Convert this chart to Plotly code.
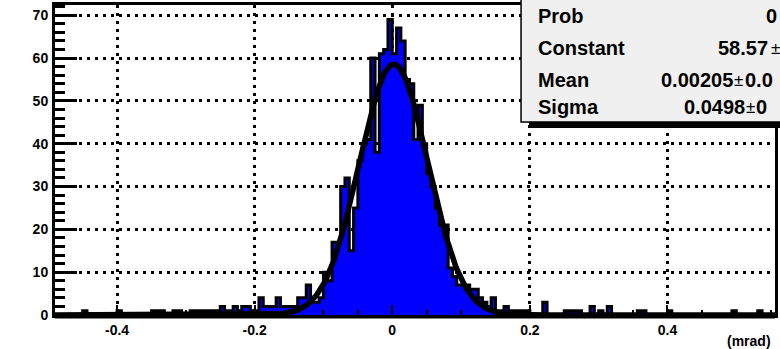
import numpy as np
import plotly.graph_objects as go

# ---------------- data ----------------
BIN_WIDTH = 0.00625          # mrad per bin
FIRST_BIN = -79              # index of first bin (left edge = FIRST_BIN*BIN_WIDTH)
counts = [
    0, 0, 0, 0, 0, 0, 0, 1, 0, 0,
    0, 0, 0, 0, 0, 1, 0, 0, 0, 0,
    0, 0, 0, 1, 1, 1, 0, 0, 1, 1,
    0, 0, 1, 1, 1, 1, 1, 1, 1, 2,
    1, 1, 2, 1, 2, 2, 1, 1, 4, 2,
    2, 2, 4, 2, 2, 2, 2, 4, 4, 7,
    3, 3, 4, 10, 8, 17, 17, 30, 32, 15,
    25, 36, 40, 41, 60, 38, 61, 62, 69, 61,
    67, 64, 55, 54, 41, 49, 40, 33, 30, 25,
    21, 21, 11, 9, 7, 7, 7, 6, 6, 4,
    3, 2, 4, 1, 1, 2, 1, 1, 1, 1,
    1, 0, 0, 0, 3, 0, 0, 0, 0, 1,
    1, 1, 1, 0, 0, 2, 0, 1, 0, 2,
    0, 0, 0, 0, 0, 0, 1, 1, 0, 0,
    0, 0, 0, 1, 0, 0, 0, 0, 0, 0,
    0, 0, 0, 0, 0, 0, 0, 0, 1, 0,
    0, 0, 0, 0, 1, 0, 0, 0,
]

# Gaussian fit parameters (from the stats box)
fit_constant = 58.57
fit_mean = 0.00205
fit_sigma = 0.0498

# stats box rows, as far as they are visible (the box is cut by the right edge)
stat_labels = ["Prob", "Constant", "Mean", "Sigma"]
stat_values = ["0", "58.57", "0.00205", "0.0498"]
stat_errors = [None, "", "0.0", "0"]

x_tickvals = [-0.4, -0.2, 0.0, 0.2, 0.4]
x_ticktext = ["-0.4", "-0.2", "0", "0.2", "0.4"]
y_tickvals = [0, 10, 20, 30, 40, 50, 60, 70]
x_title = "(mrad)"

X_RANGE = [-0.4902, 0.5563]
Y_RANGE = [0, 72.39]

# ---------------- layout geometry ----------------
W, H = 780, 349
L, R, T, B = 55, 778, 4, 315
PW, PH = R - L, B - T


def px(xp):
    return (xp - L) / PW


def py(yp):
    return (B - yp) / PH


FONT = "Liberation Sans, Arial, Helvetica, sans-serif"

# histogram step outline
n = len(counts)
edges = (np.arange(FIRST_BIN, FIRST_BIN + n + 1)) * BIN_WIDTH
hx = list(edges)
hy = list(counts) + [counts[-1]]

fx = np.linspace(X_RANGE[0], X_RANGE[1], 800)
fy = fit_constant * np.exp(-0.5 * ((fx - fit_mean) / fit_sigma) ** 2)

fig = go.Figure()
fig.add_trace(go.Scatter(
    x=hx, y=hy, mode="lines", line_shape="hv",
    line=dict(color="black", width=3),
    fill="tozeroy", fillcolor="#0000ff", hoverinfo="skip", showlegend=False))
fig.add_trace(go.Scatter(
    x=fx, y=fy, mode="lines",
    line=dict(color="black", width=5.5),
    hoverinfo="skip", showlegend=False))

grid_common = dict(showgrid=True, gridcolor="black", gridwidth=2.5, griddash="3px,5px",
                   zeroline=False, showline=True, linecolor="black", linewidth=3,
                   mirror=True, ticks="inside", tickcolor="black")

fig.update_xaxes(range=X_RANGE, tickmode="array", tickvals=x_tickvals, ticktext=x_ticktext,
                 ticklen=10, tickwidth=2,
                 minor=dict(tickmode="linear", tick0=0, dtick=0.05, ticks="inside",
                            ticklen=5, tickwidth=2, tickcolor="black", showgrid=False),
                 tickfont=dict(family=FONT, size=14, color="black", weight="bold"),
                 ticklabelstandoff=0, **grid_common)
fig.update_yaxes(range=Y_RANGE, tickmode="array", tickvals=y_tickvals,
                 ticktext=[str(v) for v in y_tickvals],
                 ticklen=22, tickwidth=2.5,
                 minor=dict(tickmode="linear", tick0=0, dtick=2, ticks="inside",
                            ticklen=10, tickwidth=2.5, tickcolor="black", showgrid=False),
                 tickfont=dict(family=FONT, size=14, color="black", weight="bold"),
                 ticklabelstandoff=1, **grid_common)

shapes = []
# thick baseline below frame
shapes.append(dict(type="rect", xref="paper", yref="paper", x0=px(L), x1=px(R),
                   y0=py(318.5), y1=py(315), fillcolor="black", line=dict(width=0),
                   layer="above"))
# stats box shadow and box
shapes.append(dict(type="rect", xref="paper", yref="paper", x0=px(531), x1=px(800),
                   y0=py(127.5), y1=py(-10), fillcolor="black", line=dict(width=0),
                   layer="above"))
shapes.append(dict(type="rect", xref="paper", yref="paper", x0=px(523), x1=px(800),
                   y0=py(121.5), y1=py(-10), fillcolor="#f0f0f0",
                   line=dict(color="black", width=1.5), layer="above"))

annotations = []
row_y = [15.5, 47, 79, 106.5]
val_x = [767, 718.5, 662, 685]
pm_x = [None, 771.5, 734.5, 746.5]
err_x = [None, None, 746, 757]
BOLD20 = dict(family=FONT, size=20, color="black", weight="bold")
for i, lab in enumerate(stat_labels):
    annotations.append(dict(xref="paper", yref="paper", x=px(538), y=py(row_y[i]),
                            xanchor="left", yanchor="middle", text=lab, showarrow=False,
                            font=BOLD20))
    annotations.append(dict(xref="paper", yref="paper", x=px(val_x[i]), y=py(row_y[i]),
                            xanchor="left", yanchor="middle", text=stat_values[i],
                            showarrow=False, font=BOLD20))
    if stat_errors[i] is not None:
        annotations.append(dict(xref="paper", yref="paper", x=px(pm_x[i]), y=py(row_y[i] + 0.5),
                                xanchor="left", yanchor="middle", text="±", showarrow=False,
                                font=dict(family=FONT, size=17, color="black")))
        if stat_errors[i]:
            annotations.append(dict(xref="paper", yref="paper", x=px(err_x[i]), y=py(row_y[i]),
                                    xanchor="left", yanchor="middle", text=stat_errors[i],
                                    showarrow=False, font=BOLD20))

annotations.append(dict(xref="paper", yref="paper", x=px(776), y=py(341),
                        xanchor="right", yanchor="middle", text=x_title, showarrow=False,
                        font=dict(family=FONT, size=14, color="black", weight="bold")))

fig.update_layout(width=W, height=H, margin=dict(l=L, r=W - R, t=T, b=H - B, pad=0),
                  paper_bgcolor="white", plot_bgcolor="white",
                  shapes=shapes, annotations=annotations, showlegend=False)

fig.write_html("out.html")
